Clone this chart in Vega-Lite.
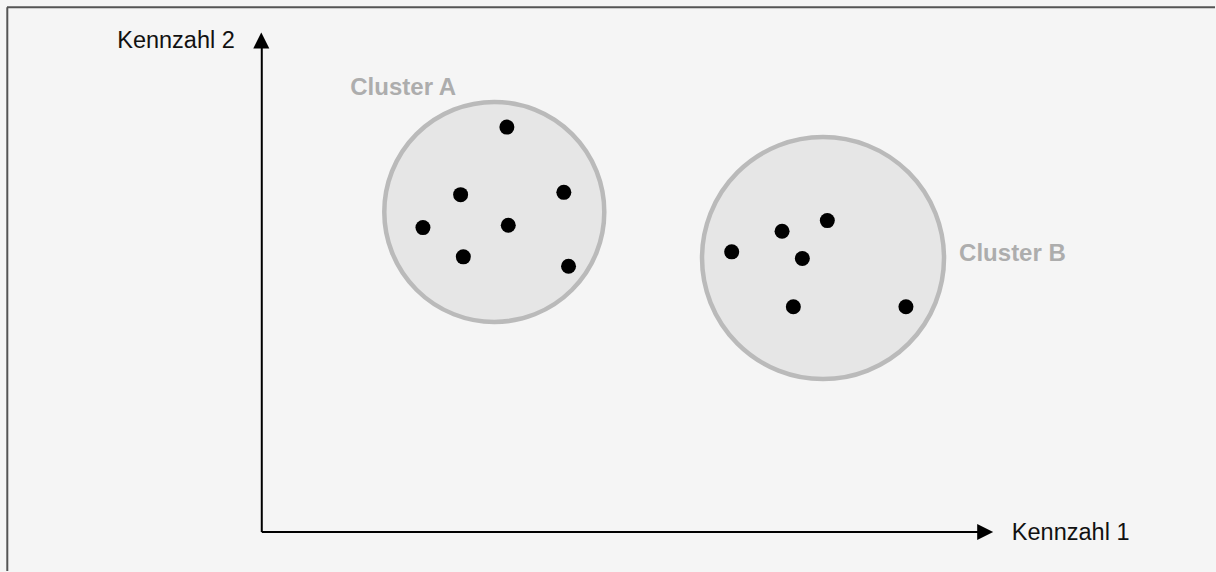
{
  "$schema": "https://vega.github.io/schema/vega-lite/v6.json",
  "width": 1216,
  "height": 572,
  "autosize": {"type": "fit", "contains": "padding"},
  "padding": 0,
  "background": "#f5f5f5",
  "config": {"view": {"stroke": null}},
  "datasets": {
    "border": [
      {"x": -255, "y": 525.7, "x2": 954, "y2": 525.7},
      {"x": -254.7, "y": 525.7, "x2": -254.7, "y2": -39}
    ],
    "axes": [
      {"x": 0, "y": 0, "x2": 0, "y2": 486},
      {"x": 0, "y": 0, "x2": 717, "y2": 0}
    ],
    "clusters": [
      {"cluster": "A", "x": 232.7, "y": 320.7},
      {"cluster": "B", "x": 561.7, "y": 274.5}
    ],
    "points": [
      {"cluster": "A", "x": 245.3, "y": 405.7},
      {"cluster": "A", "x": 199, "y": 338},
      {"cluster": "A", "x": 302.3, "y": 340.3},
      {"cluster": "A", "x": 161.3, "y": 305},
      {"cluster": "A", "x": 246.7, "y": 307.3},
      {"cluster": "A", "x": 201.7, "y": 275.7},
      {"cluster": "A", "x": 307, "y": 266.3},
      {"cluster": "B", "x": 470.3, "y": 280.7},
      {"cluster": "B", "x": 520.7, "y": 301.3},
      {"cluster": "B", "x": 566, "y": 312},
      {"cluster": "B", "x": 541, "y": 274},
      {"cluster": "B", "x": 532, "y": 225.7},
      {"cluster": "B", "x": 644.7, "y": 225.7}
    ],
    "arrows": [
      {"dir": "up", "x": -0.5, "y": 492.5},
      {"dir": "right", "x": 724, "y": 0}
    ],
    "clusterLabels": [
      {"text": "Cluster A", "x": 141.5, "y": 438},
      {"text": "Cluster B", "x": 751.3, "y": 271.3}
    ],
    "axisLabels": [
      {"text": "Kennzahl 2", "x": -27, "y": 484.7, "align": "right"},
      {"text": "Kennzahl 1", "x": 750.7, "y": -8, "align": "left"}
    ]
  },
  "layer": [
    {
      "data": {"name": "border"},
      "mark": {"type": "rule", "color": "#555555", "strokeWidth": 2},
      "encoding": {
        "x": {"field": "x", "type": "quantitative", "scale": {"domain": [-262, 954], "nice": false, "zero": false}, "axis": null},
        "y": {"field": "y", "type": "quantitative", "scale": {"domain": [-39, 533], "nice": false, "zero": false}, "axis": null},
        "x2": {"field": "x2"},
        "y2": {"field": "y2"}
      }
    },
    {
      "data": {"name": "clusters"},
      "transform": [{"filter": "datum.cluster === 'A'"}],
      "mark": {"type": "point", "shape": "circle", "filled": false, "fill": "#e6e6e6", "fillOpacity": 1, "stroke": "#bababa", "strokeWidth": 4.5, "opacity": 1, "size": 48400},
      "encoding": {
        "x": {"field": "x", "type": "quantitative", "scale": {"domain": [-262, 954], "nice": false, "zero": false}, "axis": null},
        "y": {"field": "y", "type": "quantitative", "scale": {"domain": [-39, 533], "nice": false, "zero": false}, "axis": null}
      }
    },
    {
      "data": {"name": "clusters"},
      "transform": [{"filter": "datum.cluster === 'B'"}],
      "mark": {"type": "point", "shape": "circle", "filled": false, "fill": "#e6e6e6", "fillOpacity": 1, "stroke": "#bababa", "strokeWidth": 4.5, "opacity": 1, "size": 58564},
      "encoding": {
        "x": {"field": "x", "type": "quantitative", "scale": {"domain": [-262, 954], "nice": false, "zero": false}, "axis": null},
        "y": {"field": "y", "type": "quantitative", "scale": {"domain": [-39, 533], "nice": false, "zero": false}, "axis": null}
      }
    },
    {
      "data": {"name": "points"},
      "mark": {"type": "point", "shape": "circle", "filled": true, "color": "#000000", "opacity": 1, "size": 225},
      "encoding": {
        "x": {"field": "x", "type": "quantitative", "scale": {"domain": [-262, 954], "nice": false, "zero": false}, "axis": null},
        "y": {"field": "y", "type": "quantitative", "scale": {"domain": [-39, 533], "nice": false, "zero": false}, "axis": null}
      }
    },
    {
      "data": {"name": "axes"},
      "mark": {"type": "rule", "color": "#000000", "strokeWidth": 2},
      "encoding": {
        "x": {"field": "x", "type": "quantitative", "scale": {"domain": [-262, 954], "nice": false, "zero": false}, "axis": null},
        "y": {"field": "y", "type": "quantitative", "scale": {"domain": [-39, 533], "nice": false, "zero": false}, "axis": null},
        "x2": {"field": "x2"},
        "y2": {"field": "y2"}
      }
    },
    {
      "data": {"name": "arrows"},
      "transform": [{"filter": "datum.dir === 'up'"}],
      "mark": {"type": "point", "shape": "M0,-1L1,1L-1,1Z", "filled": true, "color": "#000000", "opacity": 1, "size": 256},
      "encoding": {
        "x": {"field": "x", "type": "quantitative", "scale": {"domain": [-262, 954], "nice": false, "zero": false}, "axis": null},
        "y": {"field": "y", "type": "quantitative", "scale": {"domain": [-39, 533], "nice": false, "zero": false}, "axis": null}
      }
    },
    {
      "data": {"name": "arrows"},
      "transform": [{"filter": "datum.dir === 'right'"}],
      "mark": {"type": "point", "shape": "M1,0L-1,-1L-1,1Z", "filled": true, "color": "#000000", "opacity": 1, "size": 256},
      "encoding": {
        "x": {"field": "x", "type": "quantitative", "scale": {"domain": [-262, 954], "nice": false, "zero": false}, "axis": null},
        "y": {"field": "y", "type": "quantitative", "scale": {"domain": [-39, 533], "nice": false, "zero": false}, "axis": null}
      }
    },
    {
      "data": {"name": "clusterLabels"},
      "mark": {"type": "text", "font": "Liberation Sans", "fontSize": 24, "fontWeight": "bold", "color": "#adadad", "align": "center", "baseline": "alphabetic"},
      "encoding": {
        "x": {"field": "x", "type": "quantitative", "scale": {"domain": [-262, 954], "nice": false, "zero": false}, "axis": null},
        "y": {"field": "y", "type": "quantitative", "scale": {"domain": [-39, 533], "nice": false, "zero": false}, "axis": null},
        "text": {"field": "text"}
      }
    },
    {
      "data": {"name": "axisLabels"},
      "transform": [{"filter": "datum.align === 'right'"}],
      "mark": {"type": "text", "font": "Liberation Sans", "fontSize": 23.5, "color": "#111111", "align": "right", "baseline": "alphabetic"},
      "encoding": {
        "x": {"field": "x", "type": "quantitative", "scale": {"domain": [-262, 954], "nice": false, "zero": false}, "axis": null},
        "y": {"field": "y", "type": "quantitative", "scale": {"domain": [-39, 533], "nice": false, "zero": false}, "axis": null},
        "text": {"field": "text"}
      }
    },
    {
      "data": {"name": "axisLabels"},
      "transform": [{"filter": "datum.align === 'left'"}],
      "mark": {"type": "text", "font": "Liberation Sans", "fontSize": 23.5, "color": "#111111", "align": "left", "baseline": "alphabetic"},
      "encoding": {
        "x": {"field": "x", "type": "quantitative", "scale": {"domain": [-262, 954], "nice": false, "zero": false}, "axis": null},
        "y": {"field": "y", "type": "quantitative", "scale": {"domain": [-39, 533], "nice": false, "zero": false}, "axis": null},
        "text": {"field": "text"}
      }
    }
  ]
}
